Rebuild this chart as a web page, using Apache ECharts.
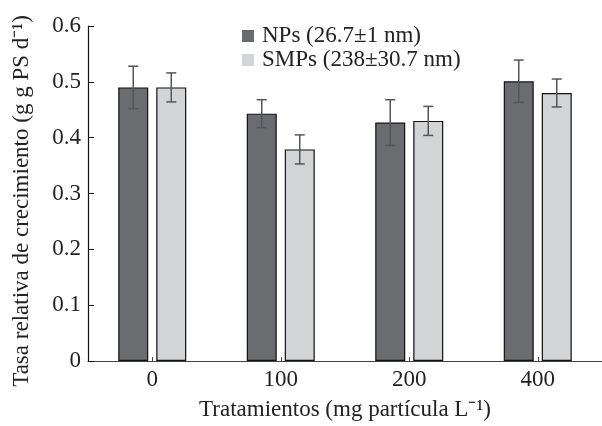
<!DOCTYPE html>
<html>
<head>
<meta charset="utf-8">
<script src="https://cdn.jsdelivr.net/npm/echarts@6/dist/echarts.min.js"></script>
<style>html,body{margin:0;padding:0;background:#fff;}#c{width:602px;height:426px;}</style>
</head>
<body>
<div id="c"></div>
<script>
var categories = ['0', '100', '200', '400'];
var npValues = [0.490, 0.443, 0.427, 0.501];
var npErrors = [0.038, 0.025, 0.041, 0.038];
var smpValues = [0.490, 0.379, 0.430, 0.480];
var smpErrors = [0.026, 0.026, 0.026, 0.025];
var seriesNames = ['NPs (26.7\u00b11 nm)', 'SMPs (238\u00b130.7 nm)'];
var yAxisTitle = 'Tasa relativa de crecimiento (g g PS d\u207b\u00b9)';
var xAxisTitle = 'Tratamientos (mg part\u00edcula L\u207b\u00b9)';

var FONT = 'Liberation Serif';
var BAR_W = 30, GAP = 8;

function errSeries(vals, errs, offset) {
  return {
    type: 'custom',
    z: 5,
    silent: true,
    data: vals.map(function (v, i) { return [i, v - errs[i], v + errs[i]]; }),
    encode: { x: 0, y: [1, 2] },
    renderItem: function (params, api) {
      var lo = api.coord([api.value(0), api.value(1)]);
      var hi = api.coord([api.value(0), api.value(2)]);
      var x = lo[0] + offset;
      var cw = 5;
      var st = { stroke: '#555', lineWidth: 1.5 };
      return {
        type: 'group',
        children: [
          { type: 'line', shape: { x1: x, y1: lo[1], x2: x, y2: hi[1] }, style: st },
          { type: 'line', shape: { x1: x - cw, y1: lo[1], x2: x + cw, y2: lo[1] }, style: st },
          { type: 'line', shape: { x1: x - cw, y1: hi[1], x2: x + cw, y2: hi[1] }, style: st }
        ]
      };
    }
  };
}

var chart = echarts.init(document.getElementById('c'), null, { renderer: 'canvas' });
chart.setOption({
  animation: false,
  backgroundColor: '#fff',
  textStyle: { fontFamily: FONT },
  grid: { left: 88, right: 0, top: 26, bottom: 60 },
  graphic: [{
    type: 'text',
    x: 22,
    y: 201,
    rotation: Math.PI / 2,
    style: {
      text: yAxisTitle,
      font: '23px "' + FONT + '"',
      fill: '#222',
      align: 'center',
      verticalAlign: 'middle'
    }
  }],
  legend: {
    orient: 'vertical',
    left: 242,
    top: 24,
    padding: 0,
    itemWidth: 12,
    itemHeight: 12,
    itemGap: 0,
    icon: 'rect',
    data: seriesNames,
    itemStyle: { borderWidth: 0 },
    textStyle: { fontFamily: FONT, fontSize: 23, lineHeight: 24, color: '#222', padding: [0, 0, 0, 3] }
  },
  xAxis: {
    type: 'category',
    data: categories,
    name: xAxisTitle,
    nameLocation: 'middle',
    nameGap: 37,
    nameTextStyle: { fontFamily: FONT, fontSize: 23, color: '#222' },
    axisLine: { lineStyle: { color: '#444', width: 1.2 } },
    axisTick: { show: true, alignWithLabel: true, inside: true, length: 4, lineStyle: { color: '#444' } },
    axisLabel: { fontFamily: FONT, fontSize: 23, color: '#222', margin: 7 }
  },
  yAxis: {
    type: 'value',
    min: 0,
    max: 0.6,
    interval: 0.1,
    splitLine: { show: false },
    axisLine: { show: true, lineStyle: { color: '#111', width: 1.2 } },
    axisTick: { show: true, inside: true, length: 6, lineStyle: { color: '#111' } },
    axisLabel: {
      fontFamily: FONT, fontSize: 23, color: '#222', margin: 7,
      formatter: function (v) { return v === 0 ? '0' : v.toFixed(1); }
    }
  },
  series: [
    {
      name: seriesNames[0],
      type: 'bar',
      data: npValues,
      barWidth: BAR_W,
      barGap: (GAP / BAR_W * 100).toFixed(1) + '%',
      itemStyle: { color: '#6b6c70', borderColor: '#111', borderWidth: 1.2 }
    },
    {
      name: seriesNames[1],
      type: 'bar',
      data: smpValues,
      barWidth: BAR_W,
      itemStyle: { color: '#d3d4d6', borderColor: '#111', borderWidth: 1.2 }
    },
    errSeries(npValues, npErrors, -(BAR_W + GAP) / 2),
    errSeries(smpValues, smpErrors, (BAR_W + GAP) / 2)
  ]
});
</script>
</body>
</html>
